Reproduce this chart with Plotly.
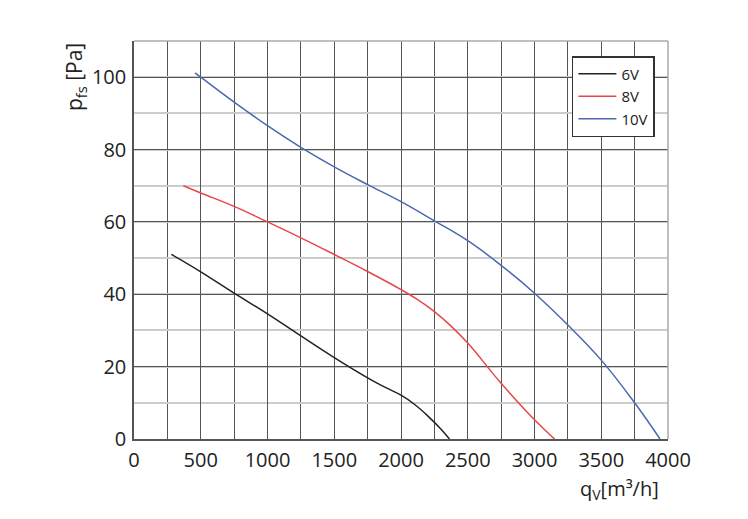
import plotly.graph_objects as go

# Data
flow_6v = [280, 500, 750, 1000, 1250, 1500, 1750, 1875, 2000, 2100, 2200, 2300, 2363]
pres_6v = [51, 46.2, 40.3, 34.6, 28.5, 22.5, 16.9, 14.4, 12.1, 9.6, 6.4, 2.7, 0]

flow_8v = [370, 500, 750, 1000, 1250, 1500, 1750, 2000, 2125, 2250, 2375, 2500, 2750, 3000, 3150]
pres_8v = [70, 68, 64.3, 60, 55.6, 51, 46.3, 41.3, 38.5, 35.2, 31.2, 26.5, 15.4, 5.3, 0]

flow_10v = [457, 500, 750, 1000, 1250, 1500, 1750, 2000, 2250, 2500, 2750, 3000, 3250, 3500, 3750, 3940]
pres_10v = [101.2, 100, 93.1, 86.6, 80.6, 75.2, 70.3, 65.6, 60.3, 54.8, 48, 40.3, 31.5, 21.8, 10, 0]

series_names = ["6V", "8V", "10V"]
series_colors = ["#222222", "#e8474a", "#4a68b0"]

x_ticks = [0, 500, 1000, 1500, 2000, 2500, 3000, 3500, 4000]
y_ticks = [0, 20, 40, 60, 80, 100]

fig = go.Figure()
for name, xs, ys, col in zip(series_names, [flow_6v, flow_8v, flow_10v],
                             [pres_6v, pres_8v, pres_10v], series_colors):
    fig.add_trace(go.Scatter(x=xs, y=ys, mode="lines", name=name,
                             line=dict(color=col, width=1.5, shape="spline", smoothing=1.2)))

font_family = "Open Sans, Lato, sans-serif"

fig.update_layout(
    width=732, height=503,
    margin=dict(l=126, r=72, t=33, b=72, autoexpand=False),
    paper_bgcolor="white", plot_bgcolor="white",
    font=dict(family=font_family, color="#222222"),
    xaxis=dict(range=[0, 4000], tickvals=x_ticks, ticktext=[str(v) for v in x_ticks],
               showgrid=True, gridcolor="#555555", gridwidth=1,
               minor=dict(dtick=250, showgrid=True, gridcolor="#555555", gridwidth=1),
               showline=True, linecolor="#555555", linewidth=1.5, mirror=False,
               zeroline=False, ticks="", tickfont=dict(size=20), ticklabelstandoff=2),
    yaxis=dict(range=[0, 110], tickvals=y_ticks,
               showgrid=True, gridcolor="#555555", gridwidth=1,
               minor=dict(dtick=10, showgrid=True, gridcolor="#cccccc", gridwidth=1.5),
               showline=True, linecolor="#555555", linewidth=1.5,
               zeroline=False, ticks="", tickfont=dict(size=20), ticklabelstandoff=2),
    legend=dict(x=0.82, y=0.962, xanchor="left", yanchor="top",
                bgcolor="white", bordercolor="#333333", borderwidth=1.5,
                font=dict(size=15, family=font_family), tracegroupgap=0,
                itemwidth=38),
    showlegend=True,
)

# top and right borders (light)
fig.add_shape(type="line", xref="paper", yref="paper", x0=0, x1=1, y0=1, y1=1,
              line=dict(color="#aaaaaa", width=1.5))
fig.add_shape(type="line", xref="paper", yref="paper", x0=1, x1=1, y0=0, y1=1,
              line=dict(color="#aaaaaa", width=1.5))

fig.add_annotation(text="p<sub>fs</sub> [Pa]", xref="paper", yref="paper",
                   x=-0.11, y=0.91, xanchor="center", yanchor="middle",
                   textangle=-90, showarrow=False,
                   font=dict(size=21, family=font_family, color="#222222"))
fig.add_annotation(text="q<sub>V</sub>[m³/h]", xref="paper", yref="paper",
                   x=0.91, y=-0.128, xanchor="center", yanchor="middle",
                   showarrow=False,
                   font=dict(size=20, family=font_family, color="#222222"))

fig.write_html("out.html")
